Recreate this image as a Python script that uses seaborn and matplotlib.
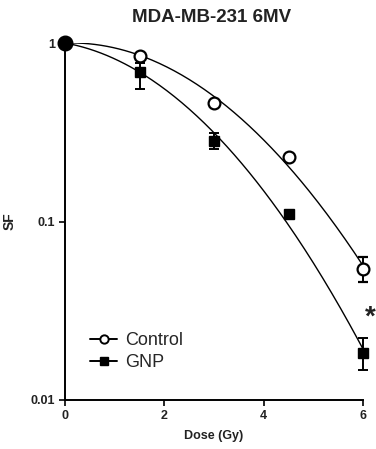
import numpy as np
import pandas as pd
import matplotlib
matplotlib.use("Agg")
import matplotlib.pyplot as plt
from matplotlib.lines import Line2D
import seaborn as sns

# ---- data ----
dose = [0, 1.5, 3, 4.5, 6]
control_sf = [1.0, 0.848, 0.46, 0.23, 0.054]
control_err_lo = [0, 0, 0, 0, 0.008]
control_err_hi = [0, 0, 0, 0, 0.009]
gnp_sf = [1.0, 0.685, 0.283, 0.110, 0.0183]
gnp_err_lo = [0, 0.13, 0.029, 0, 0.0036]
gnp_err_hi = [0, 0.09, 0.030, 0, 0.0040]
series_names = ["Control", "GNP"]
title = "MDA-MB-231 6MV"
x_ticks = [0, 2, 4, 6]
y_ticks = [0.01, 0.1, 1]
y_tick_labels = ["0.01", "0.1", "1"]

sns.set_style("ticks")
plt.rcParams["font.family"] = ["Liberation Sans", "DejaVu Sans"]

fig = plt.figure(figsize=(3.76, 4.49), dpi=100)
ax = fig.add_axes([65 / 376, 1 - 400 / 449, (363 - 65) / 376, (400 - 43) / 449])


def lq_fit(d, sf):
    d = np.asarray(d, float)
    y = -np.log(np.asarray(sf, float))
    A = np.column_stack([d, d ** 2])
    coef, *_ = np.linalg.lstsq(A, y, rcond=None)
    return coef


dd = np.linspace(0, 6, 200)
rows = []
for name, sf in zip(series_names, [control_sf, gnp_sf]):
    a, b = lq_fit(dose, sf)
    for x in dd:
        rows.append({"Dose": x, "SF": np.exp(-(a * x + b * x * x)), "group": name})
curves = pd.DataFrame(rows)
sns.lineplot(data=curves, x="Dose", y="SF", hue="group", palette=["black", "black"],
             linewidth=1.0, legend=False, ax=ax)

ax.set_yscale("log")

# GNP points
ax.errorbar(dose[1:], gnp_sf[1:], yerr=[gnp_err_lo[1:], gnp_err_hi[1:]],
            fmt="s", ms=6.5, mfc="black", mec="black", ecolor="black",
            elinewidth=1.4, capsize=3.8, capthick=1.4, clip_on=False, zorder=4)
# control points
ax.errorbar(dose[1:], control_sf[1:], yerr=[control_err_lo[1:], control_err_hi[1:]],
            fmt="o", ms=8.5, mfc="white", mec="black", mew=1.6, ecolor="black",
            elinewidth=1.4, capsize=3.8, capthick=1.4, clip_on=False, zorder=5)
# shared origin point
ax.plot(dose[:1], control_sf[:1], "o", ms=10.5, color="black", clip_on=False, zorder=6)

ax.set_xlim(0, 6)
ax.set_ylim(0.01, 1)
ax.set_xticks(x_ticks)
ax.set_xticklabels([str(t) for t in x_ticks], fontsize=9, fontweight="bold", color="#222222")
ax.set_yticks(y_ticks)
ax.set_yticklabels(y_tick_labels, fontsize=9, fontweight="bold", color="#222222")
ax.yaxis.set_minor_locator(matplotlib.ticker.NullLocator())
ax.tick_params(axis="both", which="major", direction="out", length=4, width=1.4, pad=3)

for s in ["top", "right"]:
    ax.spines[s].set_visible(False)
for s in ["left", "bottom"]:
    ax.spines[s].set_linewidth(1.4)
    ax.spines[s].set_color("black")

ax.set_xlabel("Dose (Gy)", fontsize=9, fontweight="bold", color="#222222", labelpad=6)
ax.set_ylabel("SF", fontsize=10, fontweight="bold", color="#222222", labelpad=10)
fig.text(212 / 376, 1 - 17 / 449, title, ha="center", va="center",
         fontsize=13.5, fontweight="bold", color="#222222")

handles = [
    Line2D([], [], color="black", lw=1.4, marker="o", ms=6, mfc="white", mew=1.4),
    Line2D([], [], color="black", lw=1.4, marker="s", ms=6, mfc="black"),
]
ax.legend(handles, series_names, loc="lower left", bbox_to_anchor=(0.085, 0.08),
          frameon=False, fontsize=13, handlelength=1.5, handletextpad=0.45,
          labelspacing=0.3, borderaxespad=0, borderpad=0)

ax.text(6.03, 0.029, "*", fontsize=20, fontweight="bold", ha="left", va="center",
        color="#222222", clip_on=False)

fig.savefig("out.png", dpi=100)
